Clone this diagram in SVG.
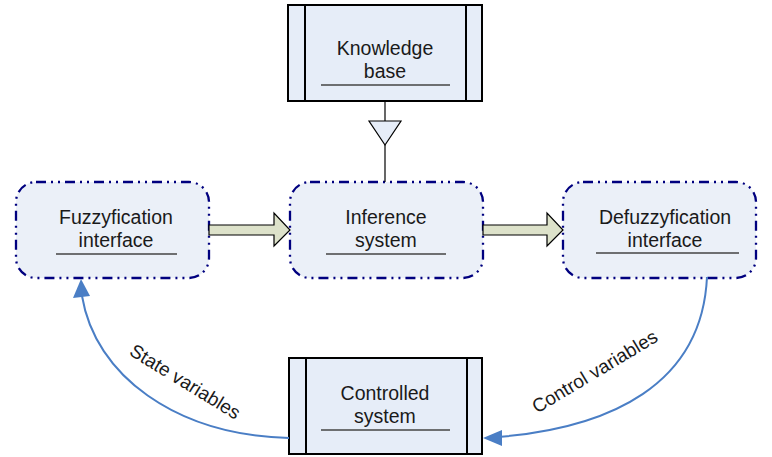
<svg xmlns="http://www.w3.org/2000/svg" width="772" height="457" viewBox="0 0 772 457">
<defs>
<style>
.t{font-family:"Liberation Sans",Arial,sans-serif;font-size:19.5px;fill:#1a1a1a;text-anchor:middle}
.lbl{font-family:"Liberation Sans",Arial,sans-serif;font-size:19px;fill:#1a1a1a;text-anchor:middle}
.rnode{fill:#EBF0F8;stroke:#00007F;stroke-width:2.3;stroke-dasharray:10 5 2 5 2 5}
.box{fill:#E6EDF8;stroke:#000;stroke-width:2}
.ul{stroke:#444;stroke-width:1.3}
.fat{fill:#DDE2CA;stroke:#000;stroke-width:1.2}
.curve{fill:none;stroke:#4A7EC5;stroke-width:2}
</style>
</defs>
<rect width="772" height="457" fill="#fff"/>
<g id="knowledge-base">
<rect class="box" x="288" y="5" width="194" height="96"/>
<line x1="305" y1="5" x2="305" y2="101" stroke="#000" stroke-width="2"/>
<line x1="466" y1="5" x2="466" y2="101" stroke="#000" stroke-width="2"/>
<text class="t" x="385" y="55">Knowledge</text>
<text class="t" x="385" y="78">base</text>
<line class="ul" x1="321" y1="85" x2="450" y2="85"/>
</g>
<g id="fuzzyfication">
<rect class="rnode" x="16" y="182" width="193" height="96" rx="20" ry="20"/>
<text class="t" x="116" y="224">Fuzzyfication</text>
<text class="t" x="116" y="247">interface</text>
<line class="ul" x1="56" y1="254" x2="177" y2="254" stroke="#666"/>
</g>
<g id="inference">
<rect class="rnode" x="290" y="182" width="193" height="96" rx="20" ry="20"/>
<text class="t" x="386" y="224">Inference</text>
<text class="t" x="386" y="247">system</text>
<line class="ul" x1="326" y1="254" x2="446" y2="254"/>
</g>
<g id="defuzzyfication">
<rect class="rnode" x="563" y="182" width="193" height="96" rx="20" ry="20"/>
<text class="t" x="665" y="224">Defuzzyfication</text>
<text class="t" x="665" y="247">interface</text>
<line class="ul" x1="596" y1="253" x2="739" y2="253"/>
</g>
<g id="controlled-system">
<rect class="box" x="289" y="358" width="193" height="96"/>
<line x1="306" y1="358" x2="306" y2="454" stroke="#000" stroke-width="2"/>
<line x1="467" y1="358" x2="467" y2="454" stroke="#000" stroke-width="2"/>
<text class="t" x="385" y="400">Controlled</text>
<text class="t" x="385" y="423">system</text>
<line class="ul" x1="321" y1="430" x2="450" y2="430"/>
</g>
<g id="connectors">
<line x1="385" y1="101" x2="385" y2="121" stroke="#000" stroke-width="1.2"/>
<path d="M369,121 L401,121 L385,145 z" fill="#E6EDF8" stroke="#000" stroke-width="1.2"/>
<line x1="385" y1="145" x2="385" y2="182" stroke="#000" stroke-width="1.2"/>
<path class="fat" d="M209,225 L274,225 L274,213 L290,230 L274,246 L274,235 L209,235 z"/>
<path class="fat" d="M483,225 L547,225 L547,213 L563,230 L547,246 L547,235 L483,235 z"/>
<path class="curve" d="M289,438 C175,435 95,375 82,296"/>
<path d="M81,279 L73,298 L90,296 z" fill="#4A7EC5"/>
<path class="curve" d="M707,277 C702,385 610,428 498,437"/>
<path d="M483,438 L502,430 L502,446 z" fill="#4A7EC5"/>
<text class="lbl" transform="translate(185,382) rotate(31.5)" y="6">State variables</text>
<text class="lbl" transform="translate(595,372) rotate(-31)" y="6">Control variables</text>
</g>
</svg>
